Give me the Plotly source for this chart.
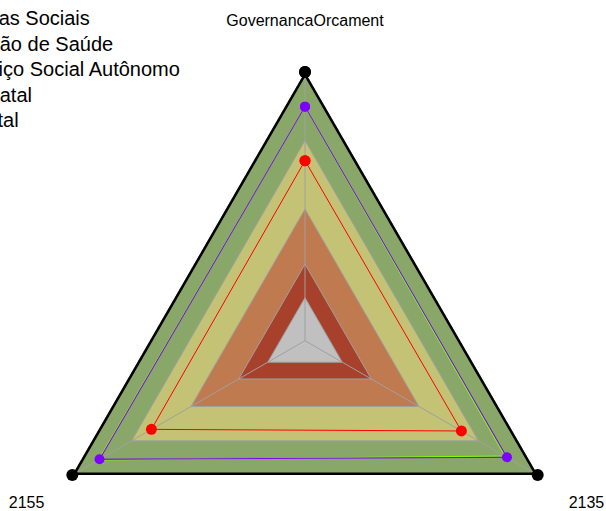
import plotly.graph_objects as go

# axes of the radar
categories = ["GovernancaOrcament", "2155", "2135"]

# background bands (outer -> inner)
band_levels = [100, 74.5, 49, 28.5, 16]
band_colors = ["#8aa76a", "#c3c275", "#c07a50", "#a8412c", "#c0c0c0"]

# series values, same order as categories
series_names = ["Verbas Sociais", "Gestão de Saúde", "Serviço Social Autônomo", "Prenatal", "Estatal"]
verbas = [100, 100, 100]
gestao = [87.1, 88.3, 86.8]
servico = [67.0, 66.0, 67.2]
prenatal = [87.0, 88.8, 85.8]
estatal = [87.0, 88.0, 86.5]

W, H = 606, 650
cx, cy, R = 305, 340.7, 268.7   # centre of the radar (px from top-left) and radius
R2 = 296                        # radius of the label rings


def dom(r, dx=0, dy=0):
    xc, yc = cx + dx, H - (cy + dy)
    return dict(x=[(xc - r) / W, (xc + r) / W], y=[(yc - r) / H, (yc + r) / H])


def closed(vals):
    return list(vals) + [vals[0]]


theta = closed(categories)
fig = go.Figure()

for lvl, col in zip(band_levels, band_colors):
    fig.add_trace(go.Scatterpolar(
        r=[lvl] * 4, theta=theta, mode="lines", fill="toself", fillcolor=col,
        line=dict(color="#a0a0a0", width=1), showlegend=False, hoverinfo="skip"))

for c in categories:
    fig.add_trace(go.Scatterpolar(
        r=[0, 100], theta=[c, c], mode="lines",
        line=dict(color="#a0a0a0", width=1), showlegend=False, hoverinfo="skip"))

styles = {
    "Estatal": (estatal, "#808080", 1, 0),
    "Prenatal": (prenatal, "#80ff00", 1, 0),
    "Gestão de Saúde": (gestao, "#7f00ff", 1, 10),
    "Serviço Social Autônomo": (servico, "#ff0000", 1, 11),
    "Verbas Sociais": (verbas, "#000000", 5, 12),
}
for name in ["Estatal", "Prenatal", "Gestão de Saúde", "Serviço Social Autônomo", "Verbas Sociais"]:
    vals, col, lw, ms = styles[name]
    idx = series_names.index(name)
    fig.add_trace(go.Scatterpolar(
        r=closed(vals), theta=theta, name=name,
        mode="lines+markers" if ms else "lines",
        line=dict(color=col, width=lw),
        marker=dict(color=col, size=ms),
        legend="legend" if idx == 0 else "legend%d" % (idx + 1)))

# carriers for the outer label rings (top label / bottom labels)
for sp in ["polar2", "polar3"]:
    fig.add_trace(go.Scatterpolar(
        r=[0, 0, 0], theta=categories, mode="markers", marker=dict(opacity=0),
        subplot=sp, showlegend=False, hoverinfo="skip"))

axis_common = dict(direction="counterclockwise", rotation=90, showgrid=False,
                   showline=False)


def label_axis(texts, ticklen):
    return dict(showticklabels=True, tickfont=dict(size=16), tickmode="array",
                tickvals=categories, ticktext=texts, ticks="outside",
                ticklen=ticklen, tickcolor="rgba(0,0,0,0)", **axis_common)


fig.update_layout(
    width=W, height=H,
    margin=dict(l=0, r=0, t=0, b=0, autoexpand=False),
    paper_bgcolor="white",
    font=dict(family="Liberation Sans, Arial, sans-serif", color="black"),
    polar=dict(domain=dom(R), gridshape="linear", bgcolor="rgba(0,0,0,0)",
               radialaxis=dict(visible=False, range=[0, 100]),
               angularaxis=dict(showticklabels=False, ticks="", **axis_common)),
    polar2=dict(domain=dom(R2), gridshape="linear", bgcolor="rgba(0,0,0,0)",
                radialaxis=dict(visible=False, range=[0, 100]),
                angularaxis=label_axis([categories[0], "", ""], 12)),
    polar3=dict(domain=dom(R2, 1.5, 3.5), gridshape="linear", bgcolor="rgba(0,0,0,0)",
                radialaxis=dict(visible=False, range=[0, 100]),
                angularaxis=label_axis(["", categories[1], categories[2]], 3)),
)

# one legend box per series so the rows sit at the reference spacing
leg_x = -82.5 / W
for i in range(len(series_names)):
    key = "legend" if i == 0 else "legend%d" % (i + 1)
    fig.update_layout({key: dict(x=leg_x, xanchor="left", y=1 - (-2 + 25.5 * i) / H,
                                 yanchor="top", font=dict(size=20),
                                 bgcolor="rgba(0,0,0,0)")})

fig.write_html("out.html", config={"displayModeBar": False}, post_script=(
    "document.documentElement.style.overflow='hidden';"
    "document.body.style.overflow='hidden';"
    "document.body.style.margin='0';"))
